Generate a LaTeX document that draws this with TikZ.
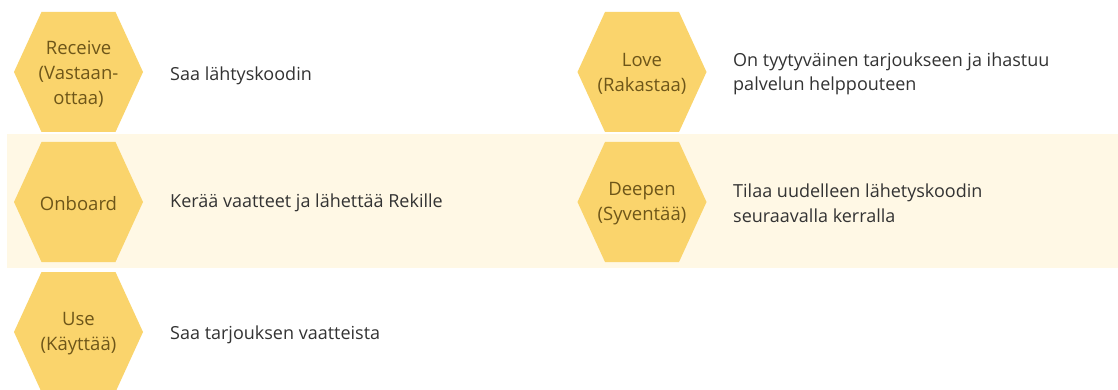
\documentclass[tikz,border=0pt]{standalone}
\usepackage{fontspec}
\setmainfont{Open Sans}
\usetikzlibrary{calc}
\definecolor{hexfill}{HTML}{FAD46C}
\definecolor{hextext}{HTML}{6E5619}
\definecolor{band}{HTML}{FFF8E5}
\definecolor{bodytext}{HTML}{333333}
\tikzset{
  hexlabel/.style={align=center, text=hextext, font=\fontsize{18.5}{25}\selectfont, inner sep=0pt},
  desc/.style={anchor=west, align=left, text=bodytext, font=\fontsize{18}{24.5}\selectfont, inner sep=0pt},
}
% flat-topped hexagon with a centred label: name, x, y, label
\newcommand\hexstage[4]{%
  \fill[hexfill] (#2-64.5,#3) -- (#2-37,#3-60) -- (#2+37,#3-60) -- (#2+64.5,#3)
    -- (#2+37,#3+60) -- (#2-37,#3+60) -- cycle;
  \node[hexlabel] (#1) at (#2,#3+2) {#4};
}
\begin{document}
\begin{tikzpicture}[x=1pt,y=-1pt]
  \useasboundingbox (0,0) rectangle (1118,390);
  \fill[white] (0,0) rectangle (1118,390);
  % highlighted middle row
  \fill[band] (7,134) rectangle (1118,268);

  \begin{scope}
    \clip (0,0) rectangle (1118,390);
    \hexstage{receive}{78.5}{72}{Receive\\(Vastaan-\\ottaa)}
    \hexstage{onboard}{78.5}{202}{Onboard}
    \hexstage{use}{78.5}{332}{Use\\(Käyttää)}
    \hexstage{love}{642}{72}{Love\\(Rakastaa)}
    \hexstage{deepen}{642}{202}{Deepen\\(Syventää)}
  \end{scope}

  \node[desc] (dreceive) at (170,76) {Saa lähtyskoodin};
  \node[desc] (donboard) at (170,203) {Kerää vaatteet ja lähettää Rekille};
  \node[desc] (duse) at (170,335) {Saa tarjouksen vaatteista};
  \node[desc] (dlove) at (733,74) {On tyytyväinen tarjoukseen ja ihastuu\\palvelun helppouteen};
  \node[desc] (ddeepen) at (733,203) {Tilaa uudelleen lähetyskoodin\\seuraavalla kerralla};
\end{tikzpicture}
\end{document}
